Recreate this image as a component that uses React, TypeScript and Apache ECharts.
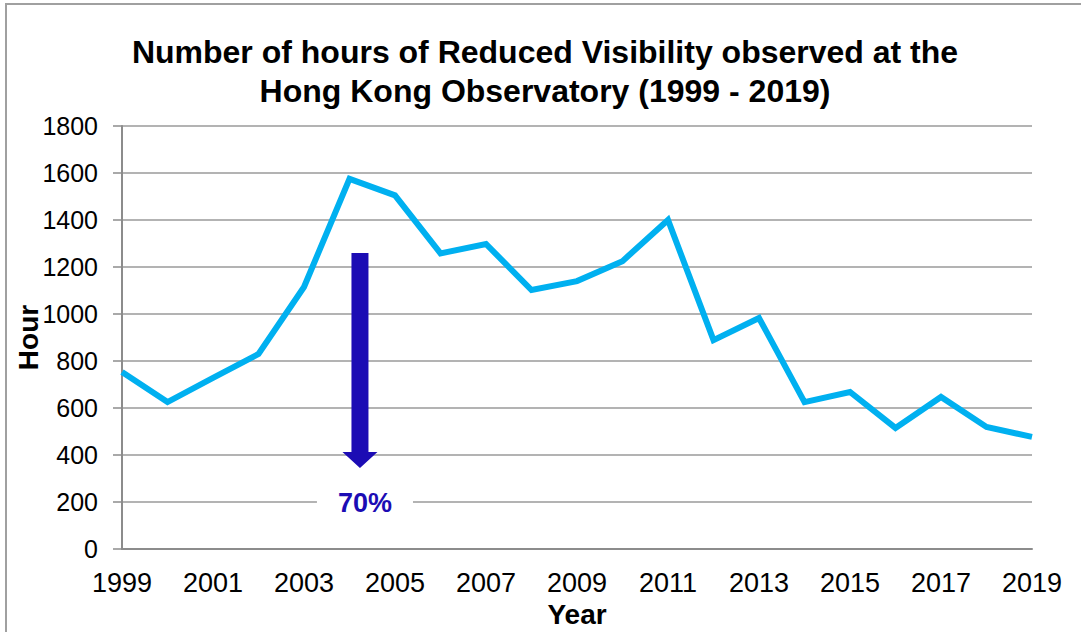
import React, { useEffect, useRef } from "react";
import * as echarts from "echarts";

const years = [
  "1999", "2000", "2001", "2002", "2003", "2004", "2005", "2006", "2007", "2008",
  "2009", "2010", "2011", "2012", "2013", "2014", "2015", "2016", "2017", "2018", "2019",
];
const hours = [
  753, 625, 728, 830, 1115, 1575, 1505, 1258, 1298, 1102,
  1140, 1225, 1400, 889, 983, 625, 668, 515, 647, 519, 477,
];
// Annotation arrow: placed between 2004 and 2005 (fraction), from value top to tip
const arrowYear = "2004";
const arrowNextYear = "2005";
const arrowFrac = 0.23;
const arrowTop = 1260;
const arrowHeadStart = 413;
const arrowTip = 345;
const arrowLabel = "70%";
const arrowLabelValue = 196;

const FONT = "'Liberation Sans', Arial, Helvetica, sans-serif";
const ARROW_COLOR = "#1c0cb4";

export default function App() {
  const ref = useRef<HTMLDivElement>(null);
  useEffect(() => {
    if (!ref.current) return;
    const chart = echarts.init(ref.current, null, { renderer: "svg" });
    chart.setOption({
      animation: false,
      backgroundColor: "#ffffff",
      title: {
        text: "Number of hours of Reduced Visibility observed at the\nHong Kong Observatory (1999 - 2019)",
        left: 540,
        textAlign: "center",
        top: 27,
        textStyle: {
          fontFamily: FONT,
          fontWeight: "bold",
          fontSize: 32,
          lineHeight: 39,
          color: "#000",
        },
      },
      grid: {
        left: 122,
        right: 49,
        top: 126,
        bottom: 83,
        containLabel: false,
        outerBoundsMode: "none",
      },
      xAxis: {
        type: "category",
        data: years,
        boundaryGap: false,
        name: "Year",
        nameLocation: "middle",
        nameGap: 50,
        nameTextStyle: { fontFamily: FONT, fontWeight: "bold", fontSize: 28, color: "#000" },
        axisLine: { lineStyle: { color: "#8c8c8c", width: 2 } },
        axisTick: { show: false },
        axisLabel: {
          interval: 1,
          margin: 20,
          fontFamily: FONT,
          fontSize: 27,
          color: "#000",
        },
        splitLine: { show: false },
      },
      yAxis: {
        type: "value",
        min: 0,
        max: 1800,
        interval: 200,
        name: "Hour",
        nameLocation: "middle",
        nameRotate: 90,
        nameGap: 80,
        nameMoveOverlap: false,
        nameTextStyle: { fontFamily: FONT, fontWeight: "bold", fontSize: 28, color: "#000" },
        axisLine: { show: true, lineStyle: { color: "#8c8c8c", width: 2 } },
        axisTick: { show: true, length: 9, lineStyle: { color: "#8c8c8c", width: 1.5 } },
        axisLabel: {
          margin: 24,
          fontFamily: FONT,
          fontSize: 25,
          color: "#000",
          formatter: (v: number) => String(v),
        },
        splitLine: { show: true, lineStyle: { color: "#9a9a9a", width: 1.5 } },
      },
      series: [
        {
          type: "line",
          data: hours,
          symbol: "none",
          lineStyle: { color: "#00b0f0", width: 6, join: "miter" },
          z: 3,
        },
      ],
    });

    const x0 = chart.convertToPixel({ xAxisIndex: 0 }, arrowYear) as number;
    const x1 = chart.convertToPixel({ xAxisIndex: 0 }, arrowNextYear) as number;
    const ax = x0 + (x1 - x0) * arrowFrac;
    const yTop = chart.convertToPixel({ yAxisIndex: 0 }, arrowTop) as number;
    const yHead = chart.convertToPixel({ yAxisIndex: 0 }, arrowHeadStart) as number;
    const yTip = chart.convertToPixel({ yAxisIndex: 0 }, arrowTip) as number;
    const yLab = chart.convertToPixel({ yAxisIndex: 0 }, arrowLabelValue) as number;
    const sw = 8.5;
    const hw = 17.5;

    chart.setOption({
      graphic: [
        {
          type: "rect",
          shape: { x: 6, y: 4, width: 1200, height: 800 },
          style: { fill: "none", stroke: "#a0a0a0", lineWidth: 2 },
          z: 100,
          silent: true,
        },
        {
          type: "polygon",
          shape: {
            points: [
              [ax - sw, yTop],
              [ax + sw, yTop],
              [ax + sw, yHead],
              [ax + hw, yHead],
              [ax, yTip],
              [ax - hw, yHead],
              [ax - sw, yHead],
            ],
          },
          style: { fill: ARROW_COLOR },
          z: 10,
        },
        {
          type: "text",
          x: ax + 5,
          y: yLab,
          style: {
            text: arrowLabel,
            fontFamily: FONT,
            fontWeight: "bold",
            fontSize: 27,
            fill: ARROW_COLOR,
            align: "center",
            verticalAlign: "middle",
            backgroundColor: "#ffffff",
            padding: [6, 21, 4, 21],
          },
          z: 10,
        },
      ],
    });

    return () => chart.dispose();
  }, []);
  return (
    <div
      ref={ref}
      style={{ position: "absolute", left: 0, top: 0, width: 1081, height: 632 }}
    />
  );
}
